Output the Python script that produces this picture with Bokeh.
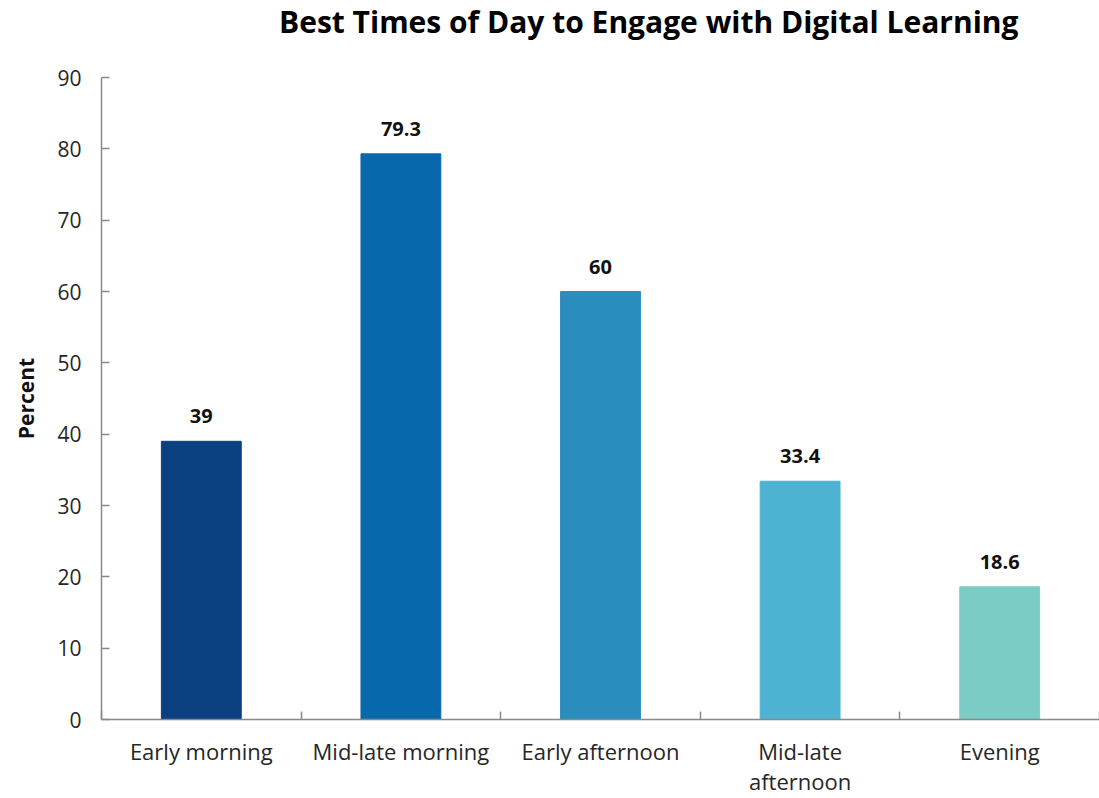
import numpy as np
from bokeh.plotting import figure
from bokeh.layouts import column
from bokeh.models import ColumnDataSource, FixedTicker, Range1d, LabelSet, Div
from bokeh.core.properties import value
from bokeh.embed import file_html
from bokeh.resources import INLINE

title_text = "Best Times of Day to Engage with Digital Learning"
categories = ["Early morning", "Mid-late morning", "Early afternoon", "Mid-late\nafternoon", "Evening"]
values = [39, 79.3, 60, 33.4, 18.6]
value_labels = ["39", "79.3", "60", "33.4", "18.6"]
colors = ["#0B3F7F", "#0868AC", "#2B8CBE", "#4EB3D3", "#7BCCC4"]
y_ticks = [0, 10, 20, 30, 40, 50, 60, 70, 80, 90]

FONT = "Open Sans"
W = 1099
TITLE_H = 45
n = len(categories)
centers = list(np.arange(n) + 0.5)
y_max = y_ticks[-1]

# ---- title ----
title_div = Div(text=title_text, width=W, height=TITLE_H, margin=0,
                styles={"font-family": FONT, "font-size": "30px", "font-weight": "bold",
                        "color": "#000000", "line-height": "43px", "text-indent": "279px",
                        "white-space": "nowrap", "overflow": "visible"})

# ---- main chart ----
src = ColumnDataSource(dict(x=centers, top=values, color=colors, lab=value_labels))

p = figure(width=W, height=798 - TITLE_H, output_backend="svg", toolbar_location=None,
           x_range=Range1d(0, n), y_range=Range1d(0, y_max),
           min_border_left=101, min_border_right=0, min_border_top=77 - TITLE_H,
           min_border_bottom=79)

p.vbar(x="x", top="top", width=0.4, bottom=0, color="color", source=src)

labels = LabelSet(x="x", y="top", text="lab", source=src, text_align="center",
                  text_baseline="alphabetic", y_offset=18, text_font=value(FONT),
                  text_font_style="bold", text_font_size="20px", text_color="#111111")
p.add_layout(labels)

p.grid.visible = False
p.outline_line_color = None
p.background_fill_color = "white"
p.border_fill_color = "white"

axis_color = "#898989"
# y axis
p.yaxis.ticker = FixedTicker(ticks=y_ticks)
p.yaxis.axis_line_color = axis_color
p.yaxis.axis_line_width = 1.5
p.yaxis.major_tick_line_color = axis_color
p.yaxis.major_tick_line_width = 1.5
p.yaxis.major_tick_in = 8
p.yaxis.major_tick_out = 0
p.yaxis.minor_tick_line_color = None
p.yaxis.major_label_text_font = FONT
p.yaxis.major_label_text_font_size = "21px"
p.yaxis.major_label_text_color = "#262626"
p.yaxis.major_label_standoff = 20
p.yaxis.axis_label = "Percent"
p.yaxis.axis_label_text_font = FONT
p.yaxis.axis_label_text_font_style = "bold"
p.yaxis.axis_label_text_font_size = "21px"
p.yaxis.axis_label_text_color = "#111111"
p.yaxis.axis_label_standoff = 14

# x axis
p.xaxis.ticker = FixedTicker(ticks=centers, minor_ticks=list(range(n + 1)))
p.xaxis.major_label_overrides = {c: cat for c, cat in zip(centers, categories)}
p.xaxis.axis_line_color = axis_color
p.xaxis.axis_line_width = 1.5
p.xaxis.major_tick_line_color = None
p.xaxis.major_tick_in = 0
p.xaxis.major_tick_out = 0
p.xaxis.minor_tick_line_color = axis_color
p.xaxis.minor_tick_line_width = 1.5
p.xaxis.minor_tick_in = 8
p.xaxis.minor_tick_out = 0
p.xaxis.major_label_text_font = FONT
p.xaxis.major_label_text_font_size = "22px"
p.xaxis.major_label_text_color = "#262626"
p.xaxis.major_label_standoff = 16
p.xaxis.major_label_text_line_height = 1.0

layout = column(title_div, p, spacing=0)
open("out.html", "w").write(file_html(layout, INLINE))
